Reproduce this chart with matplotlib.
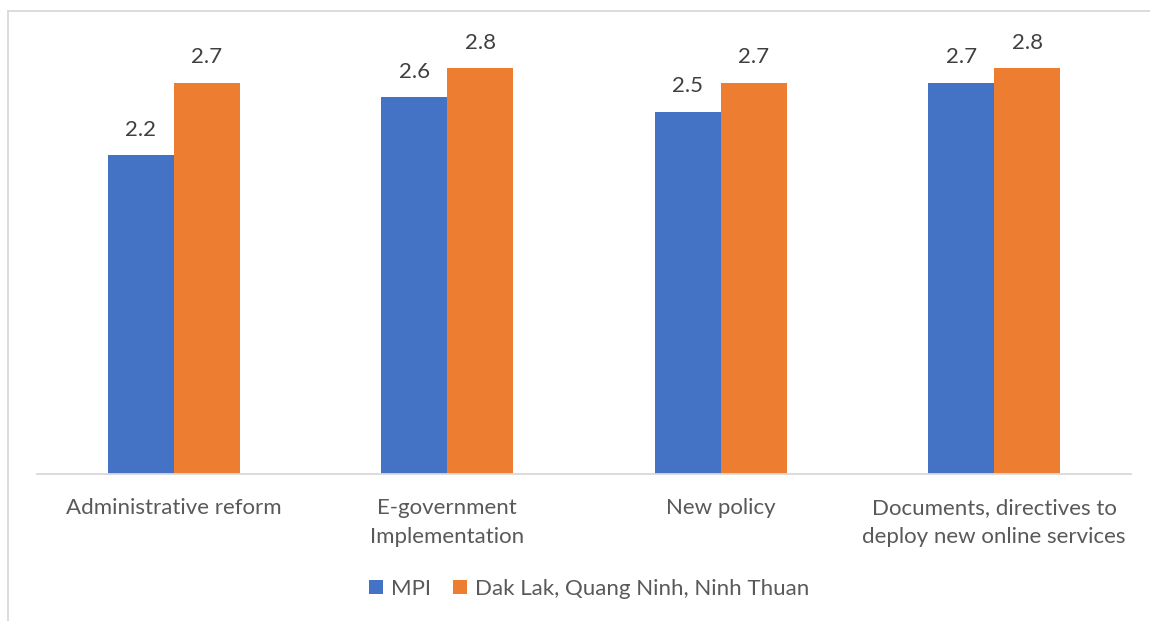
import matplotlib
matplotlib.use("Agg")
import matplotlib.pyplot as plt
from matplotlib.lines import Line2D
from matplotlib.patches import Patch
import numpy as np

categories = ["Administrative reform", "E-government\nImplementation", "New policy",
              "Documents, directives to\ndeploy new online services"]
series_names = ["MPI", "Dak Lak, Quang Ninh, Ninh Thuan"]
mpi = [2.2, 2.6, 2.5, 2.7]
provinces = [2.7, 2.8, 2.7, 2.8]
colors = ["#4472C4", "#ED7D31"]

plt.rcParams['font.family'] = ['Lato', 'DejaVu Sans']

W, H = 1150, 621
fig = plt.figure(figsize=(W / 100, H / 100), dpi=100)
ax = fig.add_axes([37 / W, (H - 474) / H, (1131 - 37) / W, (474 - 39) / H])

x = np.arange(len(categories))
bw = 0.241
b1 = ax.bar(x - bw / 2, mpi, bw, color=colors[0])
b2 = ax.bar(x + bw / 2, provinces, bw, color=colors[1])
for bars in (b1, b2):
    ax.bar_label(bars, labels=[f"{v:.1f}" for v in bars.datavalues], padding=11,
                 fontsize=16, color="#404040")

ax.set_xlim(-0.5, len(categories) - 0.5)
ax.set_ylim(0, 3.0)
ax.set_yticks([])
ax.set_xticks(x)
ax.set_xticklabels(categories, fontsize=16, color="#595959", linespacing=1.55)
ax.tick_params(axis="x", length=0, pad=17.5)
for s in ["top", "right", "left"]:
    ax.spines[s].set_visible(False)
ax.spines["bottom"].set_color("#D9D9D9")
ax.spines["bottom"].set_linewidth(1.3)

handles = [Patch(facecolor=c) for c in colors]
fig.legend(handles, series_names, loc="center", bbox_to_anchor=(589 / W, 1 - 589 / H),
           ncol=2, frameon=False, fontsize=16, labelcolor="#595959",
           handlelength=0.62, handleheight=0.62, handletextpad=0.35, columnspacing=1.0)

# chart frame
fig.add_artist(Line2D([7.5 / W, 7.5 / W], [0, 1 - 10.5 / H], transform=fig.transFigure,
                      color="#D9D9D9", lw=1.3))
fig.add_artist(Line2D([7.5 / W, 1], [1 - 10.5 / H, 1 - 10.5 / H], transform=fig.transFigure,
                      color="#D9D9D9", lw=1.3))

fig.savefig("out.png", dpi=100, facecolor="white")
